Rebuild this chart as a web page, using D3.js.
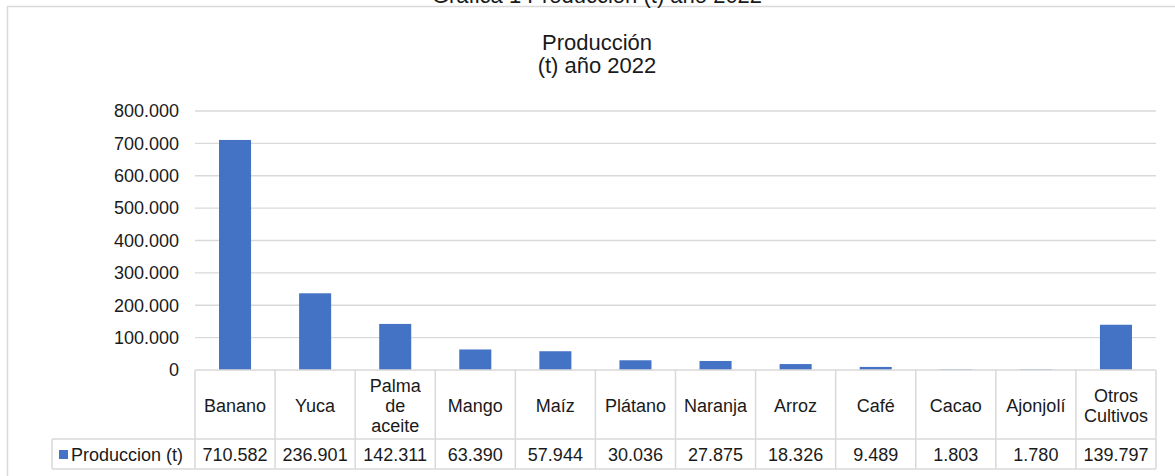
<!DOCTYPE html>
<html>
<head>
<meta charset="utf-8">
<style>
  body { margin: 0; background: #fff; }
  text { font-family: "Liberation Sans", Arial, sans-serif; fill: #1a1a1a; }
</style>
<title>Producción (t) año 2022</title>
</head>
<body>
<script src="https://cdn.jsdelivr.net/npm/d3@7"></script>
<script>
  // data
  const cultivos = ["Banano", "Yuca", "Palma de aceite", "Mango", "Maíz", "Plátano",
    "Naranja", "Arroz", "Café", "Cacao", "Ajonjolí", "Otros Cultivos"];
  const produccion = [710582, 236901, 142311, 63390, 57944, 30036, 27875, 18326, 9489, 1803, 1780, 139797];
  const headerLines = [["Banano"], ["Yuca"], ["Palma", "de", "aceite"], ["Mango"], ["Maíz"], ["Plátano"],
    ["Naranja"], ["Arroz"], ["Café"], ["Cacao"], ["Ajonjolí"], ["Otros", "Cultivos"]];
  const yTicks = [0, 100000, 200000, 300000, 400000, 500000, 600000, 700000, 800000];
  const seriesName = "Produccion (t)";

  const W = 1175, H = 476;
  const plotLeft = 195, plotRight = 1156, plotTop = 111, plotBottom = 370;
  const headerBottom = 439, rowBottom = 469, legendLeft = 52;
  const grid = "#d9d9d9", blue = "#4472c4";
  const fs = "18px";

  const fmt = v => d3.format(",")(v).replace(/,/g, ".");

  const svg = d3.select("body").append("svg")
    .attr("width", W).attr("height", H);

  // outer chart box
  svg.append("rect")
    .attr("x", 7.5).attr("y", 6.5)
    .attr("width", W + 10).attr("height", H + 10)
    .attr("fill", "none").attr("stroke", grid).attr("stroke-width", 1.5);

  // caption above the box (cut off at the top, as in the source)
  svg.append("text")
    .attr("x", 597).attr("y", 3)
    .attr("text-anchor", "middle")
    .style("font-size", "22px")
    .text("Gráfica 1 Producción (t) año 2022");

  // chart title
  svg.append("text")
    .attr("x", 597).attr("y", 50)
    .attr("text-anchor", "middle")
    .style("font-size", "22px")
    .text("Producción");
  svg.append("text")
    .attr("x", 597).attr("y", 73)
    .attr("text-anchor", "middle")
    .style("font-size", "22px")
    .text("(t) año 2022");

  // scales
  const x = d3.scaleBand().domain(cultivos)
    .range([plotLeft, plotRight]).paddingInner(0.6).paddingOuter(0.3);
  const y = d3.scaleLinear().domain([0, 800000]).range([plotBottom, plotTop]);

  // gridlines
  svg.append("g").selectAll("line")
    .data(yTicks.filter(d => d > 0))
    .enter().append("line")
    .attr("x1", plotLeft).attr("x2", plotRight)
    .attr("y1", d => y(d)).attr("y2", d => y(d))
    .attr("stroke", grid).attr("stroke-width", 1.3);

  // y labels
  const yAxis = svg.append("g")
    .attr("transform", `translate(${plotLeft}, 0)`)
    .call(d3.axisLeft(y).tickValues(yTicks).tickFormat(fmt).tickSize(0).tickPadding(16));
  yAxis.select(".domain").remove();
  yAxis.selectAll("text")
    .style("font-family", "'Liberation Sans', Arial, sans-serif")
    .style("font-size", fs).attr("fill", "#1a1a1a");

  // bars
  svg.selectAll(".bar")
    .data(cultivos)
    .enter().append("rect")
    .attr("class", "bar")
    .attr("x", d => x(d))
    .attr("y", (d, i) => y(produccion[i]))
    .attr("width", x.bandwidth())
    .attr("height", (d, i) => plotBottom - y(produccion[i]))
    .attr("fill", blue);

  // data table
  const step = x.step();
  const tbl = svg.append("g")
    .attr("stroke", grid).attr("stroke-width", 1.5);
  tbl.append("line").attr("x1", plotLeft).attr("x2", plotRight)
    .attr("y1", plotBottom).attr("y2", plotBottom);
  tbl.append("line").attr("x1", legendLeft).attr("x2", plotRight)
    .attr("y1", headerBottom).attr("y2", headerBottom);
  tbl.append("line").attr("x1", legendLeft).attr("x2", plotRight)
    .attr("y1", rowBottom).attr("y2", rowBottom);
  tbl.append("line").attr("x1", legendLeft).attr("x2", legendLeft)
    .attr("y1", headerBottom).attr("y2", rowBottom);
  tbl.selectAll(".vline")
    .data(d3.range(cultivos.length + 1))
    .enter().append("line")
    .attr("x1", i => plotLeft + i * step).attr("x2", i => plotLeft + i * step)
    .attr("y1", plotBottom).attr("y2", rowBottom);

  // header labels
  const headerMid = (plotBottom + headerBottom) / 2;
  cultivos.forEach((c, i) => {
    const lines = headerLines[i];
    const lh = 20;
    const t = svg.append("text")
      .attr("text-anchor", "middle")
      .style("font-size", fs);
    lines.forEach((ln, j) => {
      t.append("tspan")
        .attr("x", x(c) + x.bandwidth() / 2)
        .attr("y", headerMid + 7 + (j - (lines.length - 1) / 2) * lh)
        .text(ln);
    });
  });

  // value row
  svg.selectAll(".val")
    .data(cultivos)
    .enter().append("text")
    .attr("x", d => x(d) + x.bandwidth() / 2)
    .attr("y", (headerBottom + rowBottom) / 2 + 7)
    .attr("text-anchor", "middle")
    .style("font-size", fs)
    .text((d, i) => fmt(produccion[i]));

  // legend key
  svg.append("rect")
    .attr("x", 59).attr("y", 450).attr("width", 9).attr("height", 9)
    .attr("fill", blue);
  svg.append("text")
    .attr("x", 71).attr("y", (headerBottom + rowBottom) / 2 + 7)
    .style("font-size", fs)
    .text(seriesName);
</script>
</body>
</html>
